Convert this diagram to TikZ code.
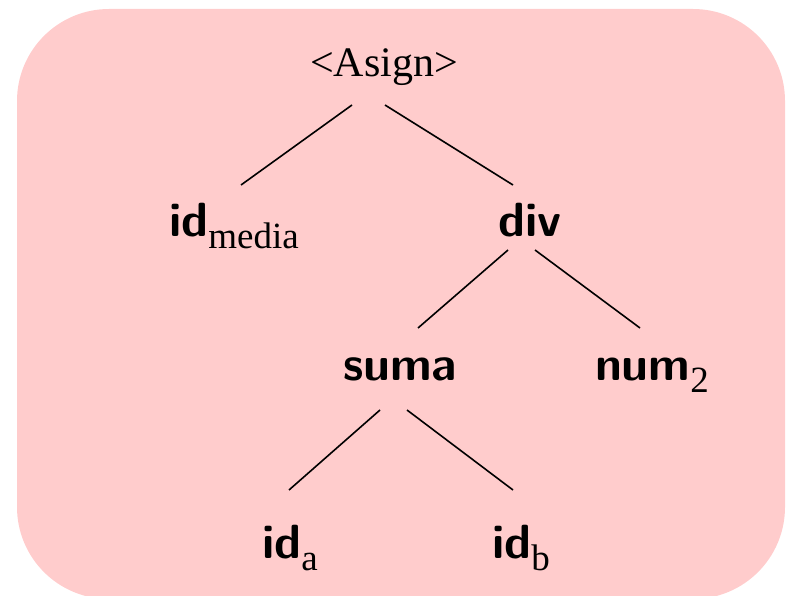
\documentclass[tikz,border=0pt]{standalone}
\usepackage{fontspec}
\newfontfamily\serifA{Liberation Serif}
\definecolor{bgpink}{RGB}{255,204,204}
\tikzset{
  lbl/.style={anchor=base, inner sep=0pt, font=\fontsize{48}{52}\selectfont\sffamily\bfseries},
  top/.style={anchor=base, inner sep=0pt, font=\fontsize{42}{48}\selectfont\serifA},
  edge/.style={line width=1.6pt, black}
}
\newcommand{\subx}[1]{\raisebox{-12pt}{\fontsize{37}{40}\selectfont\mdseries\serifA #1}}
\begin{document}
\begin{tikzpicture}[x=1pt,y=1pt]
\useasboundingbox (0,0) rectangle (786,-596);
\clip (0,0) rectangle (786,-596);
\fill[bgpink, rounded corners=92pt] (17,-9) rectangle (785,-599);
\node[top] (asign) at (384,-77) {<Asign>};
\node[lbl] (idm) at (234,-236) {id\subx{media}};
\node[lbl] (div) at (530,-236) {div};
\node[lbl] (suma) at (400,-380) {suma};
\node[lbl] (num) at (652,-380) {num\subx{2}};
\node[lbl] (ida) at (290,-558) {id\subx{a}};
\node[lbl] (idb) at (521,-558) {id\subx{b}};
\draw[edge] ([shift={(-32,-28)}]asign.base) -- ([shift={(7,51)}]idm.base);
\draw[edge] ([shift={(1,-28)}]asign.base) -- ([shift={(-17,51)}]div.base);
\draw[edge] ([shift={(-22,-14)}]div.base) -- ([shift={(18,52)}]suma.base);
\draw[edge] ([shift={(5,-14)}]div.base) -- ([shift={(-12,52)}]num.base);
\draw[edge] ([shift={(-20,-30)}]suma.base) -- ([shift={(-1,68)}]ida.base);
\draw[edge] ([shift={(7,-30)}]suma.base) -- ([shift={(-8,68)}]idb.base);
\end{tikzpicture}
\end{document}
